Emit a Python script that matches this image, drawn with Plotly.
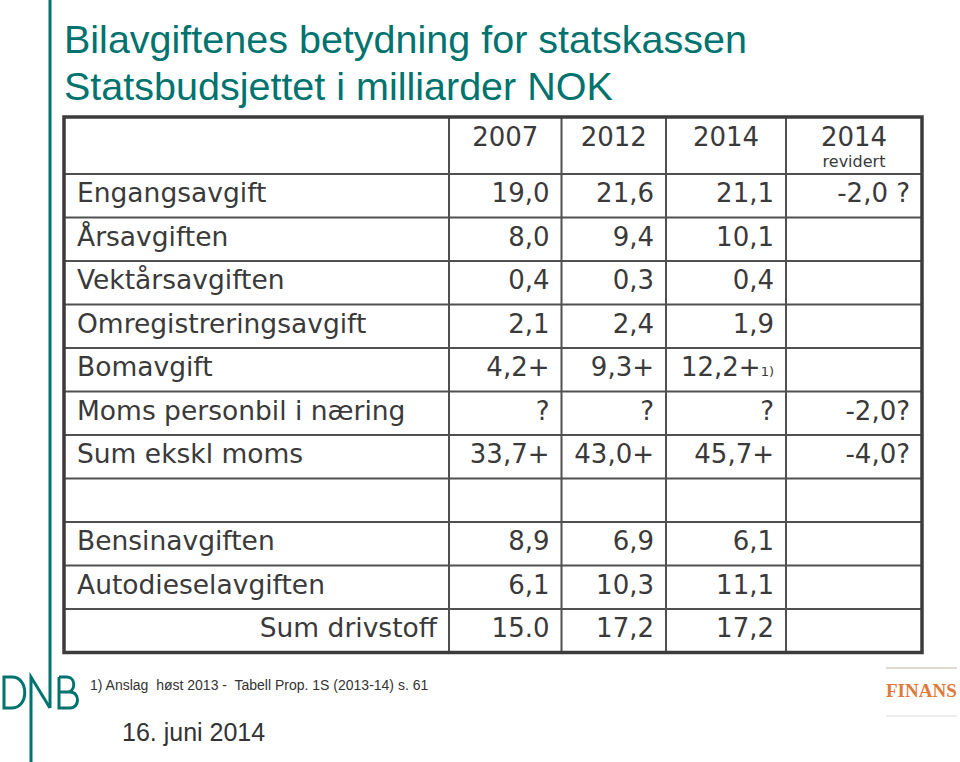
import plotly.graph_objects as go

# table content (strings as shown on the slide)
row_labels = ["Engangsavgift", "Årsavgiften", "Vektårsavgiften", "Omregistreringsavgift",
              "Bomavgift", "Moms personbil i næring", "Sum ekskl moms", "",
              "Bensinavgiften", "Autodieselavgiften", "Sum drivstoff"]
years = ["2007", "2012", "2014", "2014"]
year_notes = ["", "", "", "revidert"]
v2007 = ["19,0", "8,0", "0,4", "2,1", "4,2+", "?", "33,7+", "", "8,9", "6,1", "15.0"]
v2012 = ["21,6", "9,4", "0,3", "2,4", "9,3+", "?", "43,0+", "", "6,9", "10,3", "17,2"]
v2014 = ["21,1", "10,1", "0,4", "1,9", "12,2+", "?", "45,7+", "", "6,1", "11,1", "17,2"]
v2014_rev = ["-2,0 ?", "", "", "", "", "-2,0?", "-4,0?", "", "", "", ""]
notes_2014 = ["", "", "", "", "1)", "", "", "", "", "", ""]
right_aligned_labels = ["Sum drivstoff"]

title_lines = ["Bilavgiftenes betydning for statskassen", "Statsbudsjettet i milliarder NOK"]
footnote = "1) Anslag\u00a0 høst 2013 -\u00a0 Tabell Prop. 1S (2013-14) s. 61"
date_text = "16. juni 2014"

W, H = 960, 762
TEAL = "#00736f"
TXT = "#3a3a3a"
GRID = "#505050"
FONT = "DejaVu Sans"

# table geometry (pixels, the axes below are set up 1:1 with the page)
col_edges = [64, 449, 561.5, 666, 786, 922]
table_top, header_h, row_h = 117, 57, 43.5
n_rows = len(row_labels)
row_edges = [table_top + header_h + i * row_h for i in range(n_rows + 1)]
row_mid = [(row_edges[i] + row_edges[i + 1]) / 2 for i in range(n_rows)]
pad = 12

fig = go.Figure()

# first column
lab_x = [col_edges[1] - pad if t in right_aligned_labels else col_edges[0] + 13 for t in row_labels]
lab_pos = ["middle left" if t in right_aligned_labels else "middle right" for t in row_labels]
fig.add_trace(go.Scatter(x=lab_x, y=row_mid, mode="text", text=row_labels,
                         textposition=lab_pos, textfont=dict(family=FONT, size=26.5, color=TXT),
                         hoverinfo="skip"))

# value columns
v2014_txt = [v + (f"<span style='font-size:13px'>{n}</span>" if n else "") for v, n in zip(v2014, notes_2014)]
for ci, vals in enumerate([v2007, v2012, v2014_txt, v2014_rev]):
    fig.add_trace(go.Scatter(x=[col_edges[ci + 2] - pad] * n_rows, y=row_mid, mode="text",
                             text=vals, textposition="middle left",
                             textfont=dict(family=FONT, size=26, color=TXT), hoverinfo="skip"))

# header
col_mid = [(col_edges[i + 1] + col_edges[i + 2]) / 2 for i in range(len(years))]
fig.add_trace(go.Scatter(x=col_mid, y=[table_top + 22] * len(years), mode="text", text=years,
                         textposition="middle center",
                         textfont=dict(family=FONT, size=26, color=TXT), hoverinfo="skip"))
fig.add_trace(go.Scatter(x=col_mid, y=[table_top + 46] * len(years), mode="text", text=year_notes,
                         textposition="middle center",
                         textfont=dict(family=FONT, size=16, color=TXT), hoverinfo="skip"))

shapes = []
# inner grid
for y in row_edges[:-1]:
    shapes.append(dict(type="line", xref="x", yref="y", x0=col_edges[0], x1=col_edges[-1],
                       y0=y, y1=y, line=dict(color=GRID, width=2)))
for x in col_edges[1:-1]:
    shapes.append(dict(type="line", xref="x", yref="y", x0=x, x1=x,
                       y0=table_top, y1=row_edges[-1], line=dict(color=GRID, width=2)))
# outer frame
shapes.append(dict(type="rect", xref="x", yref="y", x0=col_edges[0], x1=col_edges[-1],
                   y0=table_top, y1=row_edges[-1], line=dict(color="#3c3c3c", width=3.5)))

# teal rule + DNB logo
shapes.append(dict(type="line", xref="x", yref="y", x0=50, x1=50, y0=0, y1=708,
                   line=dict(color=TEAL, width=3)))
logo_paths = [
    "M 31,762 L 31,677 L 50,708",
    "M 4,677 L 4,708 L 12,708 C 29,708 29,677 12,677 Z",
    "M 59,677 L 59,708 L 70,708 C 80,708 80,692 70,692 L 59,692 M 59,692 L 67,692 C 76,692 76,677 67,677 L 59,677",
]
for p in logo_paths:
    shapes.append(dict(type="path", xref="x", yref="y", path=p, line=dict(color=TEAL, width=3)))

# FINANS logo rules
shapes.append(dict(type="line", xref="x", yref="y", x0=886, x1=957, y0=668, y1=668,
                   line=dict(color="#d9cdc0", width=1.5)))
shapes.append(dict(type="line", xref="x", yref="y", x0=886, x1=957, y0=716, y1=716,
                   line=dict(color="#e6e6e6", width=1.5)))

annotations = [
    dict(x=62, y=39, text=title_lines[0], showarrow=False, xanchor="left", yanchor="middle",
         font=dict(family="Liberation Sans", size=39.5, color=TEAL)),
    dict(x=62, y=86, text=title_lines[1], showarrow=False, xanchor="left", yanchor="middle",
         font=dict(family="Liberation Sans", size=39.5, color=TEAL)),
    dict(x=88, y=685, text=footnote, showarrow=False, xanchor="left", yanchor="middle",
         font=dict(family="Liberation Sans", size=14, color="#333333")),
    dict(x=120, y=732, text=date_text, showarrow=False, xanchor="left", yanchor="middle",
         font=dict(family="Liberation Sans", size=25, color="#333333")),
    dict(x=921, y=690, text="<b>FINANS</b>", showarrow=False, xanchor="center", yanchor="middle",
         font=dict(family="Liberation Serif", size=19, color="#e07a3c")),
]
for a in annotations:
    a.update(xref="x", yref="y")

fig.update_layout(
    width=W, height=H,
    margin=dict(l=0, r=0, t=0, b=0),
    paper_bgcolor="white", plot_bgcolor="white",
    showlegend=False,
    xaxis=dict(range=[0, W], visible=False, fixedrange=True),
    yaxis=dict(range=[H, 0], visible=False, fixedrange=True),
    shapes=shapes,
    annotations=annotations,
)

# the page's default body margin would shift the slide by 8px
fig.write_html("out.html", config={"displayModeBar": False},
               post_script="document.body.style.margin='0';document.body.style.overflow='hidden';")
